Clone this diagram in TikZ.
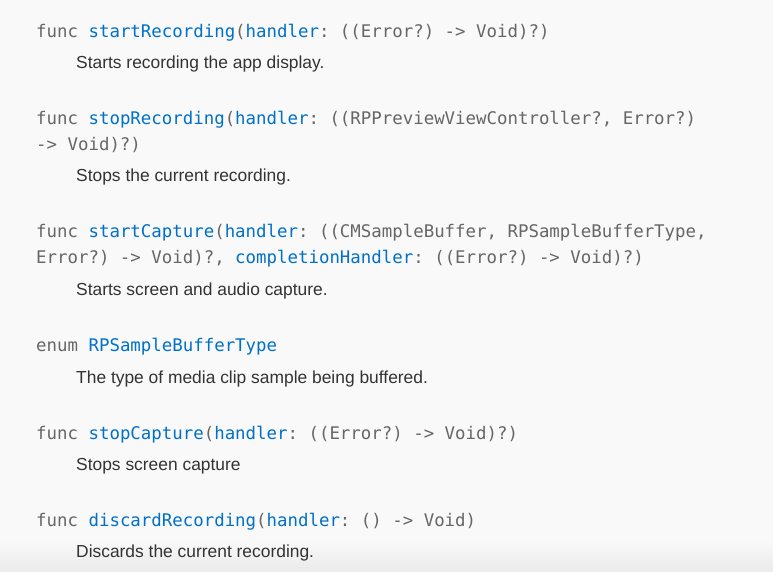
\documentclass[tikz,border=0pt]{standalone}
\usepackage{fontspec}
\setmainfont{Liberation Sans}
\setmonofont{DejaVu Sans Mono}
\usepackage{tikz}
\usetikzlibrary{positioning}
\usepackage{xcolor}
\definecolor{pagebg}{HTML}{F9F9F9}
\definecolor{codegray}{HTML}{666666}
\definecolor{codeblue}{HTML}{0070C9}
\definecolor{bodytext}{HTML}{333333}
\newcommand{\idn}[1]{\textcolor{codeblue}{#1}}

\begin{document}
\begin{tikzpicture}[
    x=1pt, y=-1pt,
    sig/.style={anchor=base west, inner sep=0pt, text=codegray,
      font=\fontsize{17.4}{20}\selectfont\ttfamily},
    desc/.style={anchor=base west, inner sep=0pt, text=bodytext,
      font=\fontsize{17.4}{20}\selectfont}
    ]
    \fill [pagebg] (0,0) rectangle (773,571);
    \shade [top color=pagebg, bottom color=black!8] (0,540) rectangle (773,571);
    \useasboundingbox (0,0) rectangle (773,571);
    % startRecording
    \node [sig] (sig1) at (36,37) {func \idn{startRecording}(\idn{handler}: ((Error?) -> Void)?)};
    \node [desc] (desc1) at (76,68) {Starts recording the app display.};
    % stopRecording
    \node [sig] (sig2) at (36,124) {func \idn{stopRecording}(\idn{handler}: ((RPPreviewViewController?, Error?)};
    \node [sig] (sig2b) at (36,150) {-> Void)?)};
    \node [desc] (desc2) at (76,181) {Stops the current recording.};
    % startCapture
    \node [sig] (sig3) at (36,237) {func \idn{startCapture}(\idn{handler}: ((CMSampleBuffer, RPSampleBufferType,};
    \node [sig] (sig3b) at (36,263) {Error?) -> Void)?, \idn{completionHandler}: ((Error?) -> Void)?)};
    \node [desc] (desc3) at (76,295) {Starts screen and audio capture.};
    % RPSampleBufferType
    \node [sig] (sig4) at (36,351) {enum \idn{RPSampleBufferType}};
    \node [desc] (desc4) at (76,383) {The type of media clip sample being buffered.};
    % stopCapture
    \node [sig] (sig5) at (36,439) {func \idn{stopCapture}(\idn{handler}: ((Error?) -> Void)?)};
    \node [desc] (desc5) at (76,470) {Stops screen capture};
    % discardRecording
    \node [sig] (sig6) at (36,526) {func \idn{discardRecording}(\idn{handler}: () -> Void)};
    \node [desc] (desc6) at (76,557) {Discards the current recording.};
\end{tikzpicture}
\end{document}
